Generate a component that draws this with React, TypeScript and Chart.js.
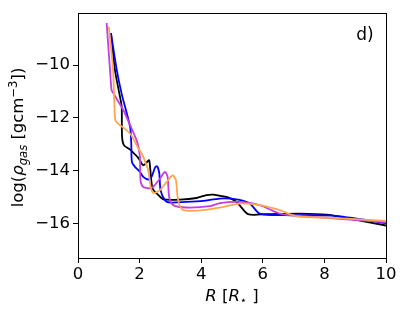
import React, { useEffect, useRef } from 'react';
import { Chart, registerables } from 'chart.js';
Chart.register(...registerables);

// ---- data (R in stellar radii, log density) ----
const blackR = [1.07, 1.2, 1.38, 1.42, 1.43, 1.49, 1.69, 1.74, 1.95, 2.12, 2.25, 2.31, 2.34, 2.42, 2.61, 2.77, 3.31, 3.85, 4.17, 4.39, 4.61, 4.82, 5.15, 5.52, 6.12, 7.2, 8.07, 8.82, 10];
const blackRho = [-8.79, -10.19, -11.3, -11.6, -12.7, -13.03, -13.2, -13.25, -13.5, -13.79, -13.66, -13.6, -13.85, -14.67, -14.92, -15.08, -15.09, -15.03, -14.92, -14.9, -14.95, -14.99, -15.18, -15.64, -15.64, -15.62, -15.66, -15.81, -16.07];

const blueR = [1.07, 1.26, 1.42, 1.6, 1.7, 1.73, 1.75, 1.85, 2.01, 2.12, 2.28, 2.39, 2.5, 2.57, 2.64, 2.68, 2.82, 2.98, 3.5, 4.06, 4.61, 5.2, 5.58, 5.9, 6.66, 8.28, 10];
const blueRho = [-8.79, -10.19, -11.1, -11.9, -12.4, -13.0, -13.66, -13.85, -14.04, -14.23, -14.33, -14.23, -13.88, -13.83, -14.1, -14.73, -15.11, -15.2, -15.18, -15.14, -15.05, -15.09, -15.24, -15.62, -15.68, -15.7, -15.98];

const magentaR = [0.93, 1.04, 1.09, 1.15, 1.47, 1.74, 1.9, 1.96, 2.01, 2.03, 2.12, 2.39, 2.66, 2.82, 2.91, 2.96, 3.09, 3.53, 4.28, 4.61, 5.25, 5.9, 6.55, 7.2, 10];
const magentaRho = [-8.41, -10.19, -10.95, -11.07, -11.7, -12.4, -12.84, -13.09, -13.47, -14.36, -14.61, -14.65, -14.3, -14.04, -14.23, -14.99, -15.3, -15.39, -15.34, -15.22, -15.18, -15.3, -15.62, -15.71, -15.94];

const orangeR = [1.0, 1.14, 1.2, 1.25, 1.69, 1.96, 2.07, 2.28, 2.36, 2.44, 2.66, 2.88, 3.07, 3.18, 3.25, 3.42, 4.06, 4.61, 5.25, 5.9, 6.55, 7.09, 8.28, 10];
const orangeRho = [-8.55, -10.19, -12.0, -12.16, -12.59, -13.16, -13.35, -13.98, -14.61, -14.84, -14.73, -14.42, -14.17, -14.36, -15.11, -15.49, -15.49, -15.39, -15.24, -15.3, -15.49, -15.72, -15.78, -15.9];

const xTicks = [0, 2, 4, 6, 8, 10];
const yTicks = [-16, -14, -12, -10];
const panelLabel = 'd)';

const FONT = '"DejaVu Sans", sans-serif';
const FS = 16.5;

const pts = (xs: number[], ys: number[]) => xs.map((x, i) => ({ x, y: ys[i] }));
const fmt = (v: number) => (v < 0 ? '\u2212' + Math.abs(v) : String(v));

type Seg = { t: string; size: number; italic?: boolean; dy: number };

function drawSegs(ctx: CanvasRenderingContext2D, segs: Seg[], cx: number, baseY: number) {
  let total = 0;
  const widths = segs.map((s) => {
    ctx.font = `${s.italic ? 'italic ' : ''}${s.size}px ${FONT}`;
    const w = ctx.measureText(s.t).width;
    total += w;
    return w;
  });
  let x = cx - total / 2;
  segs.forEach((s, i) => {
    ctx.font = `${s.italic ? 'italic ' : ''}${s.size}px ${FONT}`;
    ctx.fillText(s.t, x, baseY + s.dy);
    x += widths[i];
  });
}

const decorPlugin = {
  id: 'decor',
  afterDraw(chart: any) {
    const { ctx, chartArea: a } = chart;
    ctx.save();
    ctx.strokeStyle = '#000';
    ctx.lineWidth = 1;
    ctx.strokeRect(Math.round(a.left) + 0.5, Math.round(a.top) + 0.5, Math.round(a.right - a.left), Math.round(a.bottom - a.top));
    ctx.fillStyle = '#000';
    ctx.textAlign = 'left';
    ctx.textBaseline = 'alphabetic';
    // panel label
    ctx.font = `${FS + 0.5}px ${FONT}`;
    ctx.textAlign = 'center';
    ctx.fillText(panelLabel, a.right - 21, a.top + 27);
    ctx.textAlign = 'left';
    // x title
    const small = FS * 0.7;
    drawSegs(
      ctx,
      [
        { t: 'R', size: FS, italic: true, dy: 0 },
        { t: ' [', size: FS, dy: 0 },
        { t: 'R', size: FS, italic: true, dy: 0 },
        { t: '\u22c6', size: small, dy: 3 },
        { t: ' ]', size: FS, dy: 0 },
      ],
      (a.left + a.right) / 2,
      a.bottom + 43
    );
    // y title
    ctx.save();
    ctx.translate(23, (a.top + a.bottom) / 2 + 2);
    ctx.rotate(-Math.PI / 2);
    drawSegs(
      ctx,
      [
        { t: 'log(', size: FS, dy: 0 },
        { t: '\u03c1', size: FS, italic: true, dy: 0 },
        { t: 'gas', size: small, italic: true, dy: 3.5 },
        { t: ' [gcm', size: FS, dy: 0 },
        { t: '\u22123', size: small, dy: -6.5 },
        { t: '])', size: FS, dy: 0 },
      ],
      0,
      0
    );
    ctx.restore();
    ctx.restore();
  },
};

export default function App() {
  const ref = useRef<HTMLCanvasElement | null>(null);
  useEffect(() => {
    if (!ref.current) return;
    const mk = (xs: number[], ys: number[], color: string) => ({
      data: pts(xs, ys),
      borderColor: color,
      backgroundColor: color,
      borderWidth: 1.8,
      pointRadius: 0,
      tension: 0.25,
      fill: false,
    });
    const chart = new Chart(ref.current, {
      type: 'line',
      data: {
        datasets: [
          mk(orangeR, orangeRho, '#ffa54f'),
          mk(magentaR, magentaRho, '#c43ee0'),
          mk(blueR, blueRho, '#0000ff'),
          mk(blackR, blackRho, '#000000'),
        ],
      },
      options: {
        responsive: false,
        animation: false,
        devicePixelRatio: 1,
        layout: { padding: { left: 0, right: 21, top: 13, bottom: 0 } },
        plugins: { legend: { display: false }, tooltip: { enabled: false } },
        scales: {
          x: {
            type: 'linear',
            min: 0,
            max: 10,
            afterBuildTicks: (s: any) => {
              s.ticks = xTicks.map((v) => ({ value: v }));
            },
            afterFit: (s: any) => {
              s.height = 54;
            },
            ticks: {
              callback: (v: any) => fmt(Number(v)),
              color: '#000',
              font: { family: FONT, size: FS },
              padding: 2,
              maxRotation: 0,
            },
            grid: { drawOnChartArea: false, drawTicks: true, tickLength: 5, tickColor: '#000', tickWidth: 1 },
            border: { display: true, color: '#000', width: 1 },
          },
          y: {
            type: 'linear',
            min: -17.3,
            max: -8.03,
            afterBuildTicks: (s: any) => {
              s.ticks = yTicks.map((v) => ({ value: v }));
            },
            afterFit: (s: any) => {
              s.width = 78;
            },
            ticks: {
              callback: (v: any) => fmt(Number(v)),
              color: '#000',
              font: { family: FONT, size: FS },
              padding: 3,
            },
            grid: { drawOnChartArea: false, drawTicks: true, tickLength: 5, tickColor: '#000', tickWidth: 1 },
            border: { display: true, color: '#000', width: 1 },
          },
        },
      },
      plugins: [decorPlugin],
    } as any);
    return () => chart.destroy();
  }, []);
  return (
    <div style={{ position: 'absolute', left: 0, top: 0, width: 407, height: 312, background: '#fff' }}>
      <canvas ref={ref} width={407} height={312} style={{ width: 407, height: 312 }} />
    </div>
  );
}
